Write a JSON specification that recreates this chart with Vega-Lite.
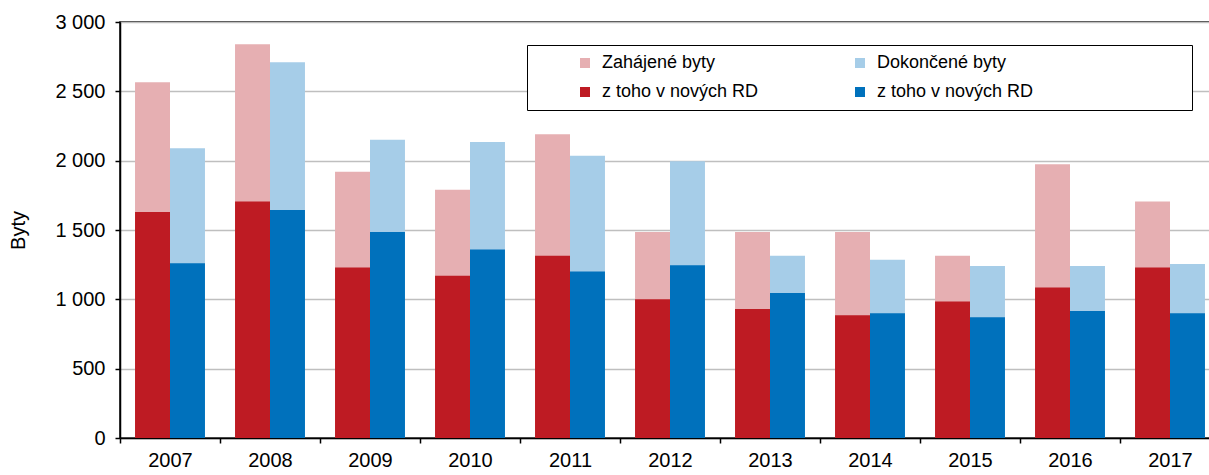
{
  "$schema": "https://vega.github.io/schema/vega-lite/v6.json",
  "width": 1100,
  "height": 416,
  "autosize": {"type": "none"},
  "padding": {"left": 120, "top": 22, "right": 0, "bottom": 37},
  "background": "white",
  "config": {
    "locale": {"number": {"decimal": ",", "thousands": "\u00a0", "grouping": [3], "currency": ["", ""]}},
    "font": "Liberation Sans",
    "view": {"stroke": "black", "strokeWidth": 1.5},
    "axis": {"labelFont": "Liberation Sans", "titleFont": "Liberation Sans", "labelColor": "black", "titleColor": "black"}
  },
  "data": {
    "values": [
      {"rok": "2007", "typ": "Z", "celkem": 2565, "rd": 1630, "s_celkem": "Zahájené byty", "s_rd": "z toho v nových RD"},
      {"rok": "2007", "typ": "D", "celkem": 2090, "rd": 1260, "s_celkem": "Dokončené byty", "s_rd": "z toho v nových RD "},
      {"rok": "2008", "typ": "Z", "celkem": 2840, "rd": 1705, "s_celkem": "Zahájené byty", "s_rd": "z toho v nových RD"},
      {"rok": "2008", "typ": "D", "celkem": 2710, "rd": 1645, "s_celkem": "Dokončené byty", "s_rd": "z toho v nových RD "},
      {"rok": "2009", "typ": "Z", "celkem": 1920, "rd": 1230, "s_celkem": "Zahájené byty", "s_rd": "z toho v nových RD"},
      {"rok": "2009", "typ": "D", "celkem": 2150, "rd": 1485, "s_celkem": "Dokončené byty", "s_rd": "z toho v nových RD "},
      {"rok": "2010", "typ": "Z", "celkem": 1790, "rd": 1170, "s_celkem": "Zahájené byty", "s_rd": "z toho v nových RD"},
      {"rok": "2010", "typ": "D", "celkem": 2135, "rd": 1360, "s_celkem": "Dokončené byty", "s_rd": "z toho v nových RD "},
      {"rok": "2011", "typ": "Z", "celkem": 2190, "rd": 1315, "s_celkem": "Zahájené byty", "s_rd": "z toho v nových RD"},
      {"rok": "2011", "typ": "D", "celkem": 2035, "rd": 1200, "s_celkem": "Dokončené byty", "s_rd": "z toho v nových RD "},
      {"rok": "2012", "typ": "Z", "celkem": 1485, "rd": 1000, "s_celkem": "Zahájené byty", "s_rd": "z toho v nových RD"},
      {"rok": "2012", "typ": "D", "celkem": 1995, "rd": 1245, "s_celkem": "Dokončené byty", "s_rd": "z toho v nových RD "},
      {"rok": "2013", "typ": "Z", "celkem": 1485, "rd": 930, "s_celkem": "Zahájené byty", "s_rd": "z toho v nových RD"},
      {"rok": "2013", "typ": "D", "celkem": 1315, "rd": 1045, "s_celkem": "Dokončené byty", "s_rd": "z toho v nových RD "},
      {"rok": "2014", "typ": "Z", "celkem": 1485, "rd": 885, "s_celkem": "Zahájené byty", "s_rd": "z toho v nových RD"},
      {"rok": "2014", "typ": "D", "celkem": 1285, "rd": 900, "s_celkem": "Dokončené byty", "s_rd": "z toho v nových RD "},
      {"rok": "2015", "typ": "Z", "celkem": 1315, "rd": 985, "s_celkem": "Zahájené byty", "s_rd": "z toho v nových RD"},
      {"rok": "2015", "typ": "D", "celkem": 1240, "rd": 870, "s_celkem": "Dokončené byty", "s_rd": "z toho v nových RD "},
      {"rok": "2016", "typ": "Z", "celkem": 1975, "rd": 1085, "s_celkem": "Zahájené byty", "s_rd": "z toho v nových RD"},
      {"rok": "2016", "typ": "D", "celkem": 1240, "rd": 915, "s_celkem": "Dokončené byty", "s_rd": "z toho v nových RD "},
      {"rok": "2017", "typ": "Z", "celkem": 1705, "rd": 1230, "s_celkem": "Zahájené byty", "s_rd": "z toho v nových RD"},
      {"rok": "2017", "typ": "D", "celkem": 1255, "rd": 900, "s_celkem": "Dokončené byty", "s_rd": "z toho v nových RD "}
    ]
  },
  "encoding": {
    "x": {
      "field": "rok", "type": "nominal",
      "scale": {"paddingInner": 0, "paddingOuter": 0},
      "axis": {"title": null, "labelAngle": 0, "tickBand": "extent", "tickSize": 5, "tickWidth": 1.5, "tickColor": "black", "domainColor": "black", "domainWidth": 1.5, "labelFontSize": 20, "labelPadding": 7, "grid": false}
    },
    "xOffset": {"field": "typ", "type": "nominal", "scale": {"domain": ["Z", "D"], "paddingInner": 0, "paddingOuter": 0.43}}
  },
  "layer": [
    {
      "mark": {"type": "bar"},
      "encoding": {
        "y": {
          "field": "celkem", "type": "quantitative",
          "scale": {"domain": [0, 3000], "nice": false},
          "axis": {"title": "Byty", "values": [0, 500, 1000, 1500, 2000, 2500, 3000], "format": ",d", "grid": true, "gridColor": "#bfbfbf", "gridWidth": 1.5, "domainColor": "black", "domainWidth": 1.5, "tickColor": "black", "tickWidth": 1.5, "tickSize": 5, "labelFontSize": 20, "labelPadding": 10, "titleFontSize": 20, "titleFontWeight": "normal", "titlePadding": 26}
        },
        "color": {
          "field": "s_celkem", "type": "nominal",
          "scale": {"domain": ["Zahájené byty", "z toho v nových RD", "Dokončené byty", "z toho v nových RD "], "range": ["#E6AFB2", "#BE1B23", "#A6CDE8", "#0071BC"]},
          "legend": {"orient": "none", "legendX": 407, "legendY": 23, "columns": 2, "title": "\u00a0", "titleOrient": "right", "titlePadding": 150, "padding": 9, "strokeColor": "black", "fillColor": "white", "symbolType": "square", "symbolSize": 100, "symbolStrokeWidth": 0, "symbolOffset": 40, "labelOffset": 8, "labelFontSize": 18, "labelColor": "black", "labelFont": "Liberation Sans", "rowPadding": 11, "columnPadding": 52, "labelLimit": 300}
        }
      }
    },
    {
      "mark": {"type": "bar"},
      "encoding": {
        "y": {
          "field": "rd", "type": "quantitative",
          "axis": {"title": "Byty", "values": [0, 500, 1000, 1500, 2000, 2500, 3000], "format": ",d", "grid": true, "gridColor": "#bfbfbf", "gridWidth": 1.5, "domainColor": "black", "domainWidth": 1.5, "tickColor": "black", "tickWidth": 1.5, "tickSize": 5, "labelFontSize": 20, "labelPadding": 10, "titleFontSize": 20, "titleFontWeight": "normal", "titlePadding": 26}
        },
        "color": {"field": "s_rd", "type": "nominal"}
      }
    }
  ]
}
